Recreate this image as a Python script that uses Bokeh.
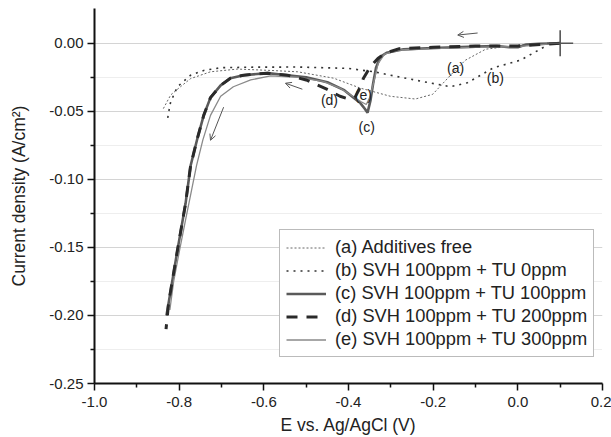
from bokeh.plotting import figure
from bokeh.models import (Range1d, FixedTicker, PrintfTickFormatter, Legend, LegendItem,
                          Arrow, OpenHead, Label)
from bokeh.embed import file_html
from bokeh.resources import INLINE

# ---- data ----
a_x = [0.10, 0.0, -0.076, -0.124, -0.159, -0.201, -0.242, -0.301, -0.372, -0.435, -0.52, -0.584, -0.662, -0.726, -0.773, -0.797, -0.820, -0.839]
a_y = [0.0, -0.0015, -0.0044, -0.0125, -0.0235, -0.0375, -0.041, -0.039, -0.033, -0.0257, -0.021, -0.020, -0.019, -0.021, -0.026, -0.032, -0.038, -0.049]

b_x = [0.061, 0.006, -0.057, -0.119, -0.159, -0.21, -0.277, -0.34, -0.40, -0.52, -0.624, -0.702, -0.742, -0.773, -0.804, -0.820, -0.825, -0.828]
b_y = [-0.003, -0.0125, -0.018, -0.029, -0.032, -0.029, -0.025, -0.021, -0.0185, -0.0175, -0.0176, -0.018, -0.020, -0.0235, -0.032, -0.043, -0.051, -0.057]

c_x = [0.10, 0.05, 0.02, 0.0, -0.02, -0.05, -0.10, -0.20, -0.27, -0.31, -0.325, -0.335, -0.342, -0.348, -0.355, -0.362, -0.372, -0.388,
       -0.41, -0.45, -0.50, -0.544, -0.591, -0.648, -0.679, -0.702, -0.726, -0.742, -0.757, -0.773, -0.785, -0.804, -0.825, -0.830]
c_y = [0.0, -0.0005, -0.001, -0.003, -0.003, -0.002, -0.0025, -0.0035, -0.0045, -0.007, -0.010, -0.018, -0.030, -0.042, -0.051, -0.048, -0.044, -0.040,
       -0.0345, -0.0287, -0.025, -0.0235, -0.022, -0.0235, -0.0257, -0.031, -0.040, -0.053, -0.070, -0.090, -0.118, -0.152, -0.191, -0.200]

d_x = [0.10, 0.0, -0.10, -0.20, -0.28, -0.31, -0.33, -0.35, -0.365, -0.375, -0.385, -0.40, -0.42, -0.45, -0.50, -0.544, -0.591,
       -0.648, -0.679, -0.702, -0.726, -0.742, -0.757, -0.773, -0.785, -0.804, -0.825, -0.831]
d_y = [0.0, -0.002, -0.002, -0.003, -0.004, -0.007, -0.011, -0.018, -0.026, -0.034, -0.040, -0.041, -0.039, -0.034, -0.027, -0.0235, -0.022,
       -0.0235, -0.0257, -0.031, -0.040, -0.053, -0.070, -0.090, -0.118, -0.152, -0.191, -0.210]

e_x = [0.10, 0.0, -0.10, -0.20, -0.28, -0.315, -0.33, -0.34, -0.35, -0.358, -0.37, -0.39, -0.42, -0.46, -0.52, -0.584, -0.631, -0.672,
       -0.702, -0.726, -0.744, -0.759, -0.772, -0.785, -0.799, -0.813, -0.822]
e_y = [0.0, -0.0025, -0.003, -0.004, -0.005, -0.008, -0.015, -0.028, -0.040, -0.045, -0.043, -0.039, -0.033, -0.028, -0.025, -0.024, -0.027, -0.032,
       -0.039, -0.053, -0.071, -0.090, -0.110, -0.130, -0.152, -0.175, -0.196]

series_names = ["(a) Additives free", "(b) SVH 100ppm + TU 0ppm", "(c) SVH 100ppm + TU 100ppm",
                "(d) SVH 100ppm + TU 200ppm", "(e) SVH 100ppm + TU 300ppm"]

start_x = [0.10]
start_y = [0.0]

curve_labels = ["(a)", "(b)", "(c)", "(d)", "(e)"]
curve_label_x = [-0.147, -0.053, -0.357, -0.445, -0.365]
curve_label_y = [-0.0184, -0.0257, -0.0618, -0.0419, -0.0382]

arrow_x0 = [-0.095, -0.509, -0.695]
arrow_y0 = [0.0075, -0.0338, -0.047]
arrow_x1 = [-0.142, -0.549, -0.726]
arrow_y1 = [0.0060, -0.0294, -0.0713]

x_ticks = [-1.0, -0.8, -0.6, -0.4, -0.2, 0.0, 0.2]
x_minor = [-0.9, -0.7, -0.5, -0.3, -0.1, 0.1]
y_ticks = [0.0, -0.05, -0.10, -0.15, -0.20, -0.25]
y_minor = [-0.025, -0.075, -0.125, -0.175, -0.225]

x_title = "E vs. Ag/AgCl (V)"
y_title = "Current density (A/cm²)"

FONT = "Liberation Sans"

p = figure(width=611, height=437, output_backend="svg", toolbar_location=None,
           x_range=Range1d(-1.0, 0.2), y_range=Range1d(-0.25, 0.0255),
           min_border_left=94, min_border_right=9, min_border_top=8, min_border_bottom=54)
p.outline_line_color = None
p.background_fill_color = "white"
p.border_fill_color = "white"

# grids
p.xgrid.visible = False
p.ygrid.grid_line_color = "#d4d4d4"
p.ygrid.grid_line_width = 1
p.ygrid.minor_grid_line_color = "#dcdcdc"
p.ygrid.minor_grid_line_dash = "1 1"
p.ygrid.minor_grid_line_width = 1

# axes
for ax in (p.xaxis[0], p.yaxis[0]):
    ax.axis_line_width = 2
    ax.axis_line_color = "#111111"
    ax.major_tick_line_color = "#111111"
    ax.minor_tick_line_color = "#111111"
    ax.major_tick_line_width = 1.5
    ax.minor_tick_line_width = 1.5
    ax.major_tick_in = 0
    ax.minor_tick_in = 0
    ax.major_tick_out = 7
    ax.minor_tick_out = 4
    ax.major_label_text_font = FONT
    ax.major_label_text_font_size = "15px"
    ax.major_label_text_color = "#222222"
    ax.axis_label_text_font = FONT
    ax.axis_label_text_font_size = "17.5px"
    ax.axis_label_text_font_style = "normal"
    ax.axis_label_text_color = "#222222"

p.xaxis.ticker = FixedTicker(ticks=x_ticks, minor_ticks=x_minor)
p.yaxis.ticker = FixedTicker(ticks=y_ticks, minor_ticks=y_minor)
p.xaxis.formatter = PrintfTickFormatter(format="%.1f")
p.yaxis.formatter = PrintfTickFormatter(format="%.2f")
p.xaxis.axis_label = x_title
p.yaxis.axis_label = y_title
p.xaxis.major_label_standoff = 6
p.xaxis.axis_label_standoff = 5
p.yaxis.major_label_standoff = 4
p.yaxis.axis_label_standoff = 17

# curves
ra = p.line(a_x, a_y, line_color="#666666", line_width=1, line_dash="2 2")
rb = p.line(b_x, b_y, line_color="#333333", line_width=1.6, line_dash="2 5")
rc = p.line(c_x, c_y, line_color="#5a5a5a", line_width=2.6)
re_ = p.line(e_x, e_y, line_color="#8a8a8a", line_width=1.3)
rd = p.line(d_x, d_y, line_color="#2a2a2a", line_width=3, line_dash="11 9")

p.scatter(start_x, start_y, marker="cross", size=26, line_color="#555555", line_width=1.6)

for lx, ly, lt in zip(curve_label_x, curve_label_y, curve_labels):
    p.add_layout(Label(x=lx, y=ly, text=lt, text_font=FONT, text_font_size="14px",
                       text_color="#222222", text_align="center", text_baseline="middle"))

for x0, y0, x1, y1 in zip(arrow_x0, arrow_y0, arrow_x1, arrow_y1):
    p.add_layout(Arrow(x_start=x0, y_start=y0, x_end=x1, y_end=y1,
                       line_color="#555555", line_width=1,
                       end=OpenHead(size=6, line_color="#555555", line_width=1)))

legend = Legend(items=[LegendItem(label=n, renderers=[r]) for n, r in
                       zip(series_names, [ra, rb, rc, rd, re_])],
                location=(185, 26))
legend.label_text_font = FONT
legend.label_text_font_size = "18.3px"
legend.label_text_color = "#222222"
legend.label_height = 21
legend.glyph_height = 21
legend.glyph_width = 40
legend.label_standoff = 9
legend.spacing = 1
legend.padding = 6
legend.margin = 0
legend.border_line_color = "#777777"
legend.border_line_width = 1
legend.background_fill_color = "white"
legend.background_fill_alpha = 1
p.add_layout(legend)

open("out.html", "w").write(file_html(p, INLINE))
